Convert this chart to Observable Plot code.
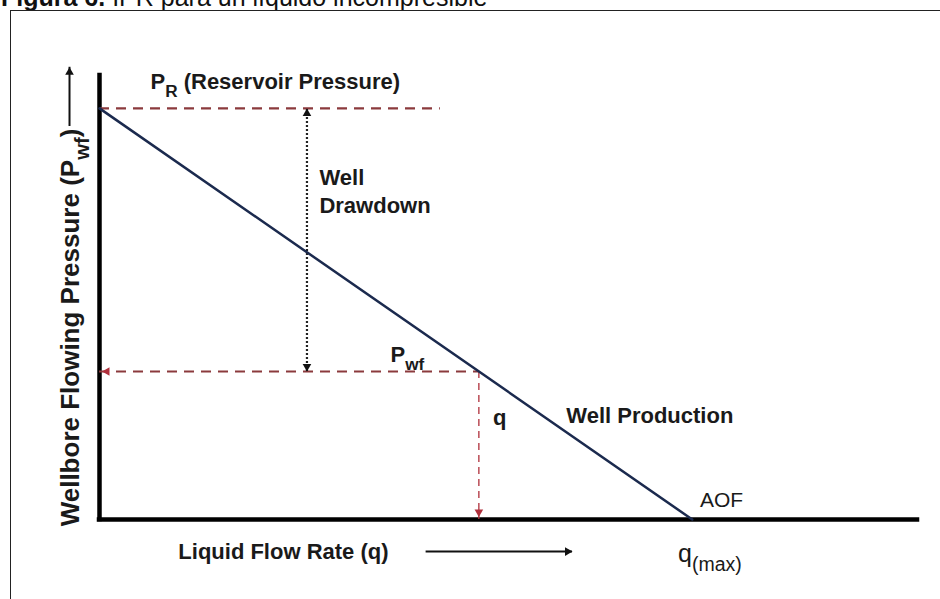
<!DOCTYPE html>
<html><head><meta charset="utf-8">
<script src="https://cdn.jsdelivr.net/npm/d3@7"></script>
<script src="https://cdn.jsdelivr.net/npm/@observablehq/plot@0.6"></script>
<style>
html,body{margin:0;padding:0;background:#fff;}
#wrap{position:relative;width:940px;height:599px;overflow:hidden;font-family:"Liberation Sans",Arial,sans-serif;}
#caption{position:absolute;left:1px;top:-15px;font-size:25px;line-height:25px;white-space:nowrap;color:#111;}
#frame{position:absolute;left:10px;top:10px;width:980px;height:640px;border-left:1.5px solid #222;border-top:1.5px solid #222;pointer-events:none;}
#chart{position:absolute;left:0;top:0;}
</style></head>
<body>
<div id="wrap">
  <div id="caption"><b>Figura 6.</b> IPR para un líquido incompresible</div>
  <div id="chart"></div>
  <div id="frame"></div>
</div>
<script>
// ---- IPR of an incompressible liquid (values in % of PR and % of qmax) ----
const iprRate = [0, 100];          // liquid flow rate q
const iprPressure = [100, 0];      // wellbore flowing pressure Pwf
const reservoirPressure = 100;     // PR
const qMax = 100;                  // AOF
const flowingPressure = 36;        // chosen Pwf
const flowRateAtPwf = 64;          // q at that Pwf
const drawdownRate = 35;           // where the drawdown arrow is drawn
const reservoirLineEnd = 57.5;     // extent of the PR dashed line
const rateAxisEnd = 138;
const pressureAxisEnd = 108;

// ---- annotations (anchor positions in data units) ----
const boldLabels = ["P_{R} (Reservoir Pressure)", "Well", "Drawdown", "P_{wf}", "q", "Well Production", "Liquid Flow Rate (q)"];
const boldLabelRate = [8.6, 37.1, 37.1, 49.1, 66.4, 78.75, 13.3];
const boldLabelPressure = [106.4, 83.2, 76.2, 40.1, 24.8, 25.1, -7.9];
const aofLabel = ["AOF"];
const aofLabelRate = [101.3];
const aofLabelPressure = [4.6];
const qmaxLabel = ["q_{(max)}"];
const qmaxLabelRate = [97.6];
const qmaxLabelPressure = [-8.3];
const yTitle = ["Wellbore Flowing Pressure (P_{wf})"];
const yTitleRate = [-4.9];
const yTitlePressure = [46.7];
// direction arrows beside the titles
const pressureArrowRate = -5.06, pressureArrowFrom = 95.6, pressureArrowTo = 110;
const rateArrowPressure = -7.8, rateArrowFrom = 55.1, rateArrowTo = 79.8;

const rows = (t, xs, ys) => t.map((s, i) => ({text: s, q: xs[i], p: ys[i]}));
const iprLine = iprRate.map((q, i) => ({q, p: iprPressure[i]}));

const dashCol = "#8b3a3d";
const redCol = "#b0303c";
const font = "Liberation Sans, Arial, sans-serif";

const chart = Plot.plot({
  width: 940,
  height: 599,
  marginLeft: 99,
  marginRight: 23,
  marginTop: 75,
  marginBottom: 80,
  x: {domain: [0, rateAxisEnd], axis: null},
  y: {domain: [0, pressureAxisEnd], axis: null},
  style: {fontFamily: font, background: "none", overflow: "visible"},
  marks: [
    // axes
    Plot.ruleX([0], {y1: 0, y2: pressureAxisEnd, stroke: "#000", strokeWidth: 4.5, strokeLinecap: "square"}),
    Plot.ruleY([0], {x1: 0, x2: rateAxisEnd, stroke: "#000", strokeWidth: 4.5, strokeLinecap: "square"}),
    // PR dashed
    Plot.ruleY([reservoirPressure], {x1: 0, x2: reservoirLineEnd, stroke: dashCol, strokeWidth: 2.2, strokeDasharray: "10,7"}),
    // Pwf dashed
    Plot.ruleY([flowingPressure], {x1: 0, x2: flowRateAtPwf, stroke: dashCol, strokeWidth: 2.2, strokeDasharray: "10,7"}),
    // q dashed vertical
    Plot.ruleX([flowRateAtPwf], {y1: flowingPressure, y2: 0, stroke: redCol, strokeWidth: 1.3, strokeDasharray: "7,5"}),
    // drawdown dotted
    Plot.ruleX([drawdownRate], {y1: flowingPressure, y2: reservoirPressure, stroke: "#222", strokeWidth: 2.2, strokeDasharray: "2,2"}),
    // IPR straight line
    Plot.line(iprLine, {x: "q", y: "p", stroke: "#1b2a4e", strokeWidth: 2.5}),
    // arrow heads
    Plot.dot([[0, flowingPressure]], {x: d => d[0], y: d => d[1], symbol: "triangle", r: 3.2, fill: redCol, rotate: -90, dx: 7.5}),
    Plot.dot([[flowRateAtPwf, 0]], {x: d => d[0], y: d => d[1], symbol: "triangle", r: 3.2, fill: redCol, rotate: 180, dy: -7.5}),
    Plot.dot([[drawdownRate, reservoirPressure]], {x: d => d[0], y: d => d[1], symbol: "triangle", r: 3.2, fill: "#111", rotate: 0, dy: 5}),
    Plot.dot([[drawdownRate, flowingPressure]], {x: d => d[0], y: d => d[1], symbol: "triangle", r: 3.2, fill: "#111", rotate: 180, dy: -5}),
    // title arrows
    Plot.ruleX([pressureArrowRate], {y1: pressureArrowFrom, y2: pressureArrowTo, stroke: "#111", strokeWidth: 2}),
    Plot.dot([[pressureArrowRate, pressureArrowTo]], {x: d => d[0], y: d => d[1], symbol: "triangle", r: 3.2, fill: "#111", rotate: 0, dy: 5}),
    Plot.ruleY([rateArrowPressure], {x1: rateArrowFrom, x2: rateArrowTo, stroke: "#111", strokeWidth: 2}),
    Plot.dot([[rateArrowTo, rateArrowPressure]], {x: d => d[0], y: d => d[1], symbol: "triangle", r: 3.2, fill: "#111", rotate: 90, dx: -5}),
    // labels
    Plot.text(rows(boldLabels, boldLabelRate, boldLabelPressure), {x: "q", y: "p", text: "text", textAnchor: "start", fontSize: 22, fontWeight: "bold", fill: "#1a1a1a", fontFamily: font}),
    Plot.text(rows(aofLabel, aofLabelRate, aofLabelPressure), {x: "q", y: "p", text: "text", textAnchor: "start", fontSize: 21, fill: "#1a1a1a", fontFamily: font}),
    Plot.text(rows(qmaxLabel, qmaxLabelRate, qmaxLabelPressure), {x: "q", y: "p", text: "text", textAnchor: "start", fontSize: 25, fill: "#1a1a1a", fontFamily: font}),
    Plot.text(rows(yTitle, yTitleRate, yTitlePressure), {x: "q", y: "p", text: "text", textAnchor: "middle", rotate: -90, fontSize: 26, fontWeight: "bold", fill: "#1a1a1a", fontFamily: font})
  ]
});

// turn "_{...}" into subscript tspans
for (const t of chart.querySelectorAll("text")) {
  const s = t.textContent;
  if (!s.includes("_{")) continue;
  const fs = parseFloat(t.closest("[font-size]")?.getAttribute("font-size")) || 20;
  const subSize = fs * 0.78, shift = fs * 0.38;
  t.textContent = "";
  const add = (str, sub, dy) => {
    const sp = document.createElementNS("http://www.w3.org/2000/svg", "tspan");
    if (sub) sp.setAttribute("font-size", subSize);
    if (dy) sp.setAttribute("dy", dy);
    sp.textContent = str;
    t.appendChild(sp);
  };
  const re = /_\{([^}]*)\}/g;
  let last = 0, m, cur = 0;
  while ((m = re.exec(s))) {
    if (m.index > last) { add(s.slice(last, m.index), false, -cur); cur = 0; }
    add(m[1], true, shift - cur); cur = shift;
    last = re.lastIndex;
  }
  if (last < s.length) add(s.slice(last), false, -cur);
}

document.getElementById("chart").appendChild(chart);
</script>
</body></html>
